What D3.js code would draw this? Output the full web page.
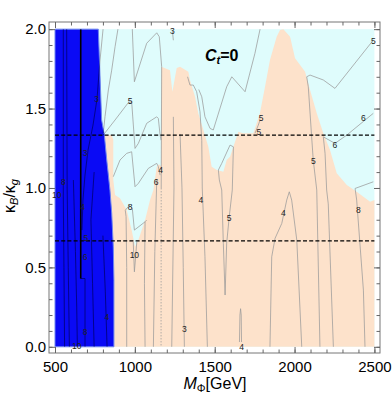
<!DOCTYPE html>
<html lang="en">
<head>
<meta charset="utf-8">
<title>contour plot</title>
<script src="https://cdn.jsdelivr.net/npm/d3@7"></script>
<style>
body { margin: 0; background: #fff; }
svg { font-family: "Liberation Sans", Arial, sans-serif; }
.tick text { font-size: 15px; fill: #000; }
.tick line { stroke: #666; }
.frame { fill: none; stroke: #777; stroke-width: 1; }
.cline { fill: none; stroke: #9a9a9a; stroke-width: 0.75; }
.bline { fill: none; stroke: #00006a; stroke-width: 0.75; }
.lab { font-size: 8.5px; fill: #222; text-anchor: middle; dominant-baseline: central; }
</style>
</head>
<body>
<svg width="392" height="397"></svg>
<script>
// ticks
const xTicks = [500, 1000, 1500, 2000, 2500];
const yTicks = [0, 0.5, 1.0, 1.5, 2.0];
const xMinor = d3.range(500, 2501, 100);
const yMinor = d3.range(0, 2.001, 0.1);

// horizontal cuts (dashed)
const cuts = [0.667, 1.333];

// excluded (blue) region right edge, top -> bottom
const blueEdge = [[771, 2.0], [776, 1.868], [792, 1.428], [809, 1.333], [824, 1.176],
  [844, 0.987], [855, 0.842], [865, 0.630], [869, 0.420], [869, 0]];

// upper edge of the peach region, left -> right
const peachTop = [[500, 1.333], [855, 1.333], [865, 1.302], [865, 1.050], [876, 0.955], [907, 0.936],
  [949, 0.861], [980, 0.735], [1001, 0.630], [1022, 0.672], [1064, 0.798], [1095, 0.924],
  [1116, 0.987], [1137, 1.134], [1151, 1.150], [1164, 1.138], [1166, 1.763], [1220, 1.742],
  [1235, 1.606], [1262, 1.755], [1283, 1.763], [1335, 1.732], [1345, 1.680], [1377, 1.574],
  [1397, 1.470], [1429, 1.365], [1460, 1.259], [1481, 1.134], [1513, 1.113], [1554, 1.102],
  [1575, 1.176], [1596, 1.196], [1617, 1.259], [1648, 1.354], [1679, 1.344], [1742, 1.344],
  [1783, 1.470], [1815, 1.637], [1846, 1.805], [1888, 1.952], [1909, 1.994], [1930, 2.0],
  [1972, 1.952], [2003, 1.816], [2066, 1.732], [2097, 1.617], [2139, 1.470], [2180, 1.344],
  [2222, 1.239], [2264, 1.092], [2327, 1.018], [2389, 0.976], [2431, 0.945], [2473, 0.913],
  [2500, 0.924]];

// contour lines
const contourLines = [
  [[801, 2.0], [782, 1.806], [763, 1.56], [738, 1.396], [707, 1.239], [688, 1.082], [675, 0.924], [669, 0.735]],
  [[894, 2.0], [876, 1.889], [855, 1.742], [834, 1.617], [813, 1.448], [802, 1.344]],
  [[984, 2.0], [997, 1.669], [1074, 1.911], [1137, 1.977], [1153, 1.952], [1168, 1.763], [1166, 1.3], [1165, 1.0]],
  [[802, 1.333], [876, 1.428], [959, 1.537], [980, 1.543], [1001, 1.249], [1022, 1.281], [1074, 1.407],
    [1106, 1.428], [1137, 1.448], [1147, 1.438], [1158, 1.333], [1164, 1.30]],
  [[865, 1.071], [907, 1.176], [949, 1.218], [980, 1.228], [1001, 1.008], [1022, 1.029], [1084, 1.123],
    [1137, 1.155], [1147, 1.134], [1158, 1.081]],
  [[949, 0], [949, 0.5], [945, 0.82], [940, 0.86], [965, 0.89], [984, 0.872], [997, 0.735], [1064, 0.787], [1074, 0.798]],
  [[1064, 0.787], [1060, 0.4], [1064, 0]],
  [[990, 0.66], [997, 0.472], [1005, 0.567], [1012, 0.66]],
  [[1137, 1.05], [1125, 0.6], [1116, 0]],
  [[1241, 1.448], [1245, 1.0], [1231, 0]],
  [[1283, 1.34], [1295, 1.0], [1303, 0.5], [1310, 0]],
  [[1330, 1.70], [1345, 1.648], [1366, 1.648], [1387, 1.606], [1408, 1.48], [1419, 1.3], [1422, 1.0], [1439, 0.567], [1454, 0]],
  [[1784, 2.0], [1752, 1.848], [1690, 1.606], [1607, 1.700], [1575, 1.637], [1491, 1.365], [1471, 1.375],
    [1439, 1.448], [1419, 1.574], [1400, 1.62]],
  [[1523, 1.113], [1544, 1.155], [1596, 1.270], [1617, 1.259], [1610, 0.987], [1591, 0.819], [1575, 0.653],
    [1565, 0.326], [1554, 0.65], [1544, 0.987], [1529, 1.05], [1523, 1.113]],
  [[1655, 0.03], [1658, 0.2], [1662, 0.24], [1666, 0.2], [1668, 0.03]],
  [[1846, 0], [1857, 0.567], [1878, 0.683], [1920, 0.777], [1951, 0.924], [1967, 0.976], [1982, 0.924], [2014, 0.672], [2045, 0]],
  [[1752, 1.344], [1773, 1.396], [1784, 1.428]],
  [[2493, 1.931], [2253, 1.627], [2180, 1.680], [2097, 1.711], [2076, 1.700], [2086, 1.637], [2107, 1.322],
    [2117, 1.176], [2139, 0.987], [2159, 0]],
  [[2493, 1.470], [2327, 1.333], [2253, 1.281], [2180, 1.322], [2191, 1.218], [2201, 0.987], [2211, 0.9], [2243, 0]],
  [[2493, 1.039], [2379, 0.997], [2389, 0.924], [2431, 0.357], [2441, 0]],
  [[1241, 1.93], [1235, 1.99]]
];
const dottedLine = [[1165, 1.0], [1164, 0]];

// contours inside the blue region
const blueLines = [
  [[552, 2.0], [552, 0.95], [556, 0.5], [560, 0]],
  [[573, 2.0], [576, 1.0], [583, 0.5], [590, 0]],
  [[615, 1.05], [628, 0.6], [636, 0.25], [640, 0]],
  [[661, 0.43], [688, 0.43], [688, 0]],
  [[745, 1.1], [725, 0.8], [735, 0.4], [745, 0]],
  [[800, 0.7], [815, 0.35], [826, 0]]
];
const boldLine = [[661, 2.0], [661, 0.43]];

const labels = [
  [1235, 1.99, "3"], [970, 1.549, "5"], [1790, 1.44, "5"], [1776, 1.35, "5"], [2493, 1.927, "5"],
  [2431, 1.438, "6"], [2253, 1.27, "6"], [2117, 1.169, "5"], [1162, 1.113, "4"], [1133, 1.04, "6"],
  [970, 0.88, "8"], [997, 0.577, "10"], [1414, 0.924, "4"], [1591, 0.81, "5"], [1930, 0.84, "4"],
  [2400, 0.86, "8"], [1310, 0.111, "3"], [1669, 0.0, "4"],
  [761, 1.56, "3"], [688, 1.218, "3"], [552, 1.037, "8"], [511, 0.955, "10"], [673, 0.882, "4"],
  [694, 0.684, "5"], [688, 0.567, "6"], [824, 0.189, "4"], [688, 0.094, "8"], [636, 0.006, "10"]
];

const svg = d3.select("svg");
const x = d3.scaleLinear().domain([462.4, 2535]).range([49, 380]);
const y = d3.scaleLinear().domain([-0.039, 2.045]).range([353, 22]);
const line = d3.line().x(d => x(d[0])).y(d => y(d[1]));

// background of the scanned area
svg.append("rect")
    .attr("x", x(500)).attr("y", y(2))
    .attr("width", x(2500) - x(500)).attr("height", y(0) - y(2))
    .attr("fill", "#dffcfc");

// peach region
const peachPoly = [[500, 0]].concat(peachTop, [[2500, 0]]);
svg.append("path").attr("d", line(peachPoly) + "Z").attr("fill", "#fde2cb");

svg.append("g").selectAll("path").data(contourLines).enter().append("path")
    .attr("class", "cline").attr("d", line);
svg.append("path").attr("class", "cline").attr("d", line(dottedLine))
    .attr("stroke-dasharray", "1.5,1.5");

// blue region
const bluePoly = [[500, 0], [500, 2.0]].concat(blueEdge);
svg.append("path").attr("d", line(bluePoly) + "Z")
    .attr("fill", "#0a0af5").attr("stroke", "#6f86f0").attr("stroke-width", 1);

svg.append("clipPath").attr("id", "bclip")
  .append("path").attr("d", line(bluePoly) + "Z");

const bg = svg.append("g").attr("clip-path", "url(#bclip)");
bg.selectAll("path.c").data(contourLines.concat(blueLines)).enter().append("path")
    .attr("class", "bline").attr("d", line);
bg.append("path").attr("d", line(boldLine)).attr("fill", "none")
    .attr("stroke", "#000").attr("stroke-width", 1.6);

// dashed cuts
svg.selectAll("line.cut").data(cuts).enter().append("line")
    .attr("x1", x(500)).attr("x2", x(2500))
    .attr("y1", d => y(d)).attr("y2", d => y(d))
    .attr("stroke", "#000").attr("stroke-width", 1.4).attr("stroke-dasharray", "4,2.2");

// contour labels
svg.selectAll("text.lab").data(labels).enter().append("text")
    .attr("class", "lab")
    .attr("x", d => x(d[0])).attr("y", d => y(d[1]))
    .text(d => d[2]);

// frame + ticks
svg.append("rect").attr("class", "frame")
    .attr("x", 49).attr("y", 22).attr("width", 331).attr("height", 331);

function addAxis(axis, tx, ty) {
  const g = svg.append("g").attr("transform", `translate(${tx},${ty})`).call(axis);
  g.select(".domain").remove();
  return g;
}
addAxis(d3.axisBottom(x).tickValues(xTicks).tickSize(-6).tickPadding(8).tickFormat(d3.format("d")), 0, 353);
addAxis(d3.axisBottom(x).tickValues(xMinor).tickSize(-3.5).tickFormat(""), 0, 353);
addAxis(d3.axisTop(x).tickValues(xTicks).tickSize(-6).tickFormat(""), 0, 22);
addAxis(d3.axisTop(x).tickValues(xMinor).tickSize(-3.5).tickFormat(""), 0, 22);
addAxis(d3.axisLeft(y).tickValues(yTicks).tickSize(-6).tickPadding(3).tickFormat(d3.format(".1f")), 49, 0);
addAxis(d3.axisLeft(y).tickValues(yMinor).tickSize(-3.5).tickFormat(""), 49, 0);
addAxis(d3.axisRight(y).tickValues(yTicks).tickSize(-6).tickFormat(""), 380, 0);
addAxis(d3.axisRight(y).tickValues(yMinor).tickSize(-3.5).tickFormat(""), 380, 0);

// axis titles
const xt = svg.append("text").attr("x", 215).attr("y", 389)
    .attr("text-anchor", "middle").attr("font-size", 16);
xt.append("tspan").attr("font-style", "italic").text("M");
xt.append("tspan").attr("font-size", 11).attr("dy", 3).text("Φ");
xt.append("tspan").attr("dy", -3).text("[GeV]");

const yt = svg.append("text").attr("transform", "translate(15,196) rotate(-90)")
    .attr("text-anchor", "middle").attr("font-size", 16);
yt.append("tspan").text("κ");
yt.append("tspan").attr("font-size", 11).attr("dy", 3).attr("font-style", "italic").text("B");
yt.append("tspan").attr("dy", -3).text("/");
yt.append("tspan").text("κ");
yt.append("tspan").attr("font-size", 11).attr("dy", 3).attr("font-style", "italic").text("g");

const ct = svg.append("text").attr("x", 205).attr("y", 61)
    .attr("font-size", 16).attr("font-weight", "bold");
ct.append("tspan").attr("font-style", "italic").text("C");
ct.append("tspan").attr("font-size", 11).attr("dy", 3).attr("font-style", "italic").text("t");
ct.append("tspan").attr("dy", -3).text("=0");
</script>
</body>
</html>
